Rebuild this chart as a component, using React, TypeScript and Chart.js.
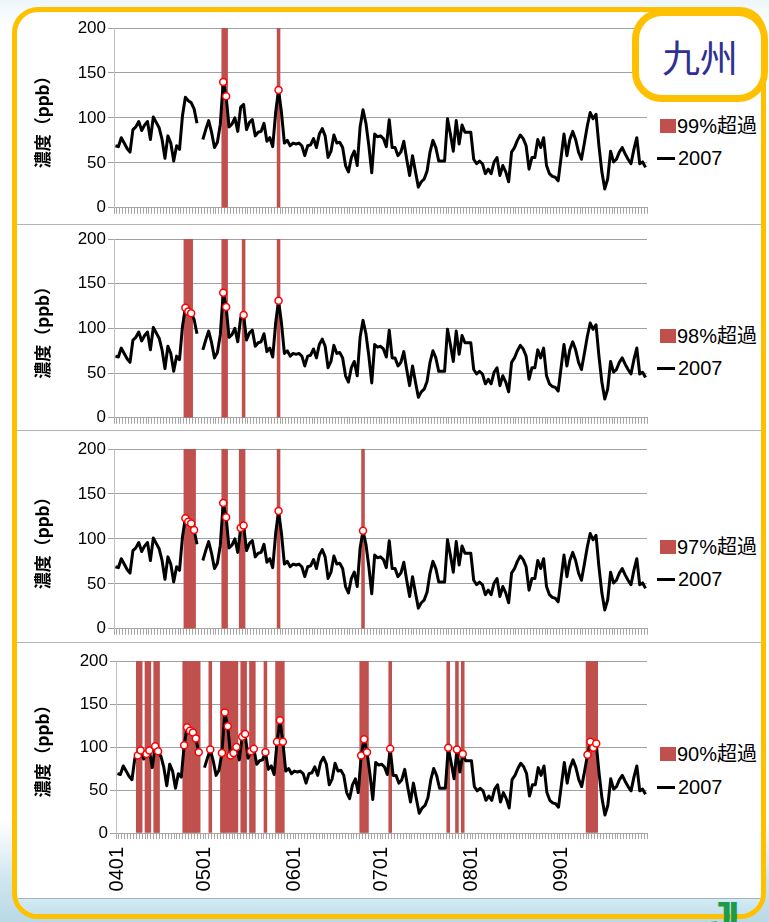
import React, { useEffect, useRef } from 'react';
import { Chart, registerables } from 'chart.js';

Chart.register(...registerables);

// ---------- data ----------
const MONTHS = ['04', '05', '06', '07', '08', '09'];
const MONTH_DAYS = [30, 31, 30, 31, 31, 30];
const DATES: string[] = [];
MONTHS.forEach((m, k) => {
  for (let d = 1; d <= MONTH_DAYS[k]; d++) DATES.push(m + String(d).padStart(2, '0'));
});

// daily ozone concentration (ppb), 2007, Kyushu, 0401..0930
const OZONE_2007: (number | null)[] = [
  // April
  69, 68, 78, 72, 66, 62, 87, 90, 96, 86,
  92, 96, 76, 101, 95, 89, 76, 55, 80, 72,
  52, 69, 65, 102, 123, 119, 117, 110, 94, null,
  // May
  76, 87, 97, 84, 67, 73, 93, 140, 124, 90,
  93, 100, 85, 112, 115, 87, 95, 98, 80, 84,
  85, 94, 74, 78, 68, 106, 131, 106, 72, 75,
  69,
  // June
  72, 71, 72, 69, 58, 69, 70, 77, 67, 82,
  88, 80, 56, 63, 81, 72, 73, 67, 47, 40,
  56, 63, 47, 90, 109, 94, 69, 39, 82, 79,
  // July
  80, 77, 68, 98, 67, 67, 58, 62, 74, 54,
  36, 58, 40, 23, 29, 32, 41, 62, 75, 67,
  52, 52, 52, 99, 82, 63, 97, 71, 92, 84,
  84,
  // August
  84, 54, 49, 52, 49, 38, 43, 38, 51, 56,
  36, 47, 40, 29, 62, 67, 75, 81, 77, 69,
  43, 56, 56, 76, 67, 78, 47, 38, 35, 34,
  30,
  // September
  56, 82, 58, 76, 85, 76, 62, 54, 72, 91,
  106, 99, 104, 69, 40, 21, 32, 63, 51, 54,
  62, 67, 60, 54, 49, 65, 78, 49, 51, 45,
];

// day indices (0 = 0401) flagged as exceedance days in each panel
const EXCEED_99 = [37, 38, 56];
const EXCEED_98 = [24, 25, 26, 37, 38, 44, 56];
const EXCEED_97 = [24, 25, 26, 27, 37, 38, 43, 44, 56, 85];
const EXCEED_90 = [
  7, 8, 10, 11, 13, 14, 23, 24, 25, 26, 27, 28, 32, 36, 37, 38, 39, 40, 41,
  43, 44, 46, 47, 51, 55, 56, 57, 84, 85, 86, 94, 114, 117, 119, 162, 163, 164, 165,
];

const PANEL_LABELS = ['99%超過', '98%超過', '97%超過', '90%超過'];
const SERIES_NAME = '2007';
const REGION = '九州';
const Y_TITLE = '濃度（ppb）';
const Y_MAX = 200;
const Y_STEP = 50;

// ---------- style ----------
const FONT = "'Liberation Sans', 'Noto Sans CJK JP', sans-serif";
const CJK = "'Noto Sans CJK JP', sans-serif";
const BAR_COLOR = '#C0504D';
const ORANGE = '#FFC000';

type PanelCfg = {
  exceed: number[];
  label: string;
  left: number;
  top: number;
  w: number;
  h: number;
  yAxisW: number;
  xAxisH: number;
  showLabels: boolean;
  legendY1: number;
  legendY2: number;
};

const PANELS: PanelCfg[] = [
  { exceed: EXCEED_99, label: PANEL_LABELS[0], left: 16, top: 12, w: 640, h: 208, yAxisW: 98, xAxisH: 10, showLabels: false, legendY1: 126, legendY2: 158 },
  { exceed: EXCEED_98, label: PANEL_LABELS[1], left: 16, top: 223, w: 640, h: 207, yAxisW: 98, xAxisH: 10, showLabels: false, legendY1: 336, legendY2: 368 },
  { exceed: EXCEED_97, label: PANEL_LABELS[2], left: 16, top: 433, w: 640, h: 208, yAxisW: 98, xAxisH: 10, showLabels: false, legendY1: 547, legendY2: 579 },
  { exceed: EXCEED_90, label: PANEL_LABELS[3], left: 16, top: 645, w: 640, h: 248, yAxisW: 100, xAxisH: 60, showLabels: true, legendY1: 754, legendY2: 787 },
];

function Panel({ cfg }: { cfg: PanelCfg }) {
  const ref = useRef<HTMLCanvasElement | null>(null);
  useEffect(() => {
    if (!ref.current) return;
    const set = new Set(cfg.exceed);
    const bars = DATES.map((_, i) => (set.has(i) ? Y_MAX : null));
    const radii = DATES.map((_, i) => (set.has(i) ? 3.5 : 0));
    const chart = new Chart(ref.current, {
      type: 'bar',
      data: {
        labels: DATES,
        datasets: [
          {
            type: 'line',
            label: SERIES_NAME,
            data: OZONE_2007 as any,
            borderColor: '#000000',
            borderWidth: 3,
            borderJoinStyle: 'round',
            pointRadius: radii,
            pointHoverRadius: radii,
            pointBackgroundColor: '#ffffff',
            pointBorderColor: '#ff0000',
            pointBorderWidth: 1.5,
            tension: 0,
            spanGaps: false,
            order: 0,
          } as any,
          {
            type: 'bar',
            label: cfg.label,
            data: bars as any,
            backgroundColor: BAR_COLOR,
            barPercentage: 1,
            categoryPercentage: 1,
            borderWidth: 0,
            order: 1,
          } as any,
        ],
      },
      options: {
        animation: false,
        responsive: false,
        maintainAspectRatio: false,
        devicePixelRatio: 1,
        layout: { padding: { top: 16, right: 9, left: 0, bottom: 0 } },
        plugins: { legend: { display: false }, tooltip: { enabled: false } },
        scales: {
          x: {
            type: 'category',
            offset: true,
            grid: { offset: true, drawOnChartArea: false, drawTicks: true, tickLength: 6, color: '#a6a6a6' },
            border: { display: true, color: '#a6a6a6' },
            ticks: {
              autoSkip: false,
              minRotation: 90,
              maxRotation: 90,
              padding: 8,
              color: '#000000',
              font: { family: FONT, size: 20 },
              callback: (_v: any, i: number) => (cfg.showLabels && DATES[i].endsWith('01') ? DATES[i] : ''),
            },
            afterFit: (s: any) => {
              s.height = cfg.xAxisH;
              s.paddingLeft = 0;
              s.paddingRight = 0;
            },
          },
          y: {
            min: 0,
            max: Y_MAX,
            ticks: { stepSize: Y_STEP, color: '#000000', padding: 2, font: { family: FONT, size: 17 } },
            grid: { color: '#a0a0a0', tickLength: 6 },
            border: { color: '#bfbfbf' },
            title: {
              display: true,
              text: Y_TITLE,
              color: '#000000',
              font: { family: CJK, size: 17, weight: 'bold' },
              padding: { top: 16, bottom: 0 },
            },
            afterFit: (s: any) => { s.width = cfg.yAxisW; },
          },
        },
      } as any,
    });
    return () => chart.destroy();
  }, []);
  return (
    <canvas
      ref={ref}
      width={cfg.w}
      height={cfg.h}
      style={{ position: 'absolute', left: cfg.left, top: cfg.top, width: cfg.w, height: cfg.h }}
    />
  );
}

function Legend({ cfg }: { cfg: PanelCfg }) {
  const txt: React.CSSProperties = {
    position: 'absolute',
    fontFamily: FONT,
    fontSize: 20,
    lineHeight: '24px',
    color: '#000',
    whiteSpace: 'nowrap',
  };
  return (
    <>
      <div style={{ position: 'absolute', left: 660, top: cfg.legendY1 - 7, width: 16, height: 14, background: BAR_COLOR }} />
      <div style={{ ...txt, left: 677, top: cfg.legendY1 - 12 }}>{cfg.label}</div>
      <div style={{ position: 'absolute', left: 657, top: cfg.legendY2 - 1.5, width: 18, height: 3, background: '#000' }} />
      <div style={{ ...txt, left: 678, top: cfg.legendY2 - 12 }}>{SERIES_NAME}</div>
    </>
  );
}

export default function App() {
  return (
    <div
      style={{
        position: 'absolute',
        left: 0,
        top: 0,
        width: 769,
        height: 922,
        overflow: 'hidden',
        background: 'linear-gradient(180deg, #eef6fa 0px, #ffffff 30px, #ffffff 820px, #cfe6ef 880px, #b9d9e6 922px)',
      }}
    >
      {/* outer orange frame */}
      <div
        style={{
          position: 'absolute',
          left: 12,
          top: 7,
          width: 754,
          height: 912,
          boxSizing: 'border-box',
          border: `5px solid ${ORANGE}`,
          borderRadius: 26,
          background: '#ffffff',
          overflow: 'hidden',
        }}
      >
        <div
          style={{
            position: 'absolute',
            left: 0,
            right: 0,
            top: 886,
            bottom: 0,
            background: 'linear-gradient(180deg, #d4ebf3, #c3e1ec)',
            borderTop: '1px solid #9fb6c0',
          }}
        />
      </div>

      {/* panel separators */}
      {[224, 430, 642].map((y) => (
        <div key={y} style={{ position: 'absolute', left: 17, top: y, width: 744, height: 1, background: '#b4b4b4' }} />
      ))}

      {PANELS.map((p, i) => (
        <Panel key={i} cfg={p} />
      ))}
      {PANELS.map((p, i) => (
        <Legend key={'l' + i} cfg={p} />
      ))}

      {/* region label box */}
      <div
        style={{
          position: 'absolute',
          left: 632,
          top: 9,
          width: 136,
          height: 93,
          boxSizing: 'border-box',
          border: `7px solid ${ORANGE}`,
          borderRadius: 30,
          background: '#ffffff',
          display: 'flex',
          alignItems: 'center',
          justifyContent: 'center',
          fontFamily: CJK,
          fontSize: 38,
          color: '#2e3192',
          lineHeight: 1,
        }}
      >
        {REGION}
      </div>

      {/* logo fragment, bottom right */}
      <div
        style={{
          position: 'absolute',
          left: 710,
          top: 896,
          fontFamily: FONT,
          fontWeight: 900,
          fontSize: 40,
          lineHeight: '40px',
          color: '#1d9b48',
          letterSpacing: -4,
        }}
      >
        JI
      </div>
    </div>
  );
}
